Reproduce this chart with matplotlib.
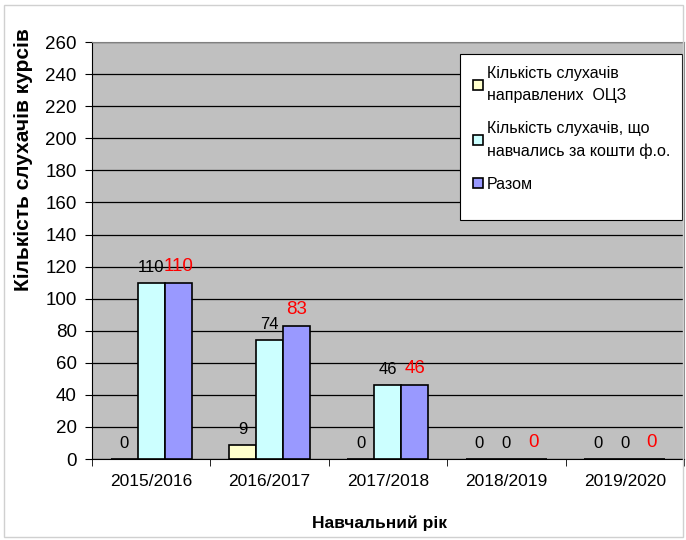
import numpy as np
import matplotlib
matplotlib.use("Agg")
from matplotlib import pyplot as plt
from matplotlib.patches import Rectangle

plt.rcParams['font.family'] = ['Liberation Sans', 'DejaVu Sans']

years = ["2015/2016", "2016/2017", "2017/2018", "2018/2019", "2019/2020"]
directed = [0, 9, 0, 0, 0]
self_paid = [110, 74, 46, 0, 0]
total = [110, 83, 46, 0, 0]
series_names = ["Кількість слухачів\nнаправлених  ОЦЗ",
                "Кількість слухачів, що\nнавчались за кошти ф.о.",
                "Разом"]
colors = ["#FFFFCC", "#CCFFFF", "#9999FF"]
yticks = list(range(0, 261, 20))

fig = plt.figure(figsize=(6.86, 5.40), dpi=100)
fig.patches.append(Rectangle((0.006, 0.006), 0.99, 0.985, transform=fig.transFigure,
                             fill=False, edgecolor="#D0D0D0", linewidth=1))
ax = fig.add_axes([0.134, 0.15, 0.863, 0.772])
ax.set_facecolor("#C0C0C0")

x = np.arange(len(years))
w = 0.228
data = [directed, self_paid, total]
for i, (vals, col, name) in enumerate(zip(data, colors, series_names)):
    pos = x + (i - 1) * w
    ax.bar(pos, vals, width=w, color=col, edgecolor="black", linewidth=1.2,
           label=name, zorder=3)
    for px, v in zip(pos, vals):
        if i == 2:
            ax.text(px, v + 5, str(v), ha="center", va="bottom",
                    color="red", fontsize=13.5, zorder=4)
        else:
            ax.text(px, v + 5, str(v), ha="center", va="bottom",
                    color="black", fontsize=12, zorder=4)

ax.set_xlim(-0.5, len(years) - 0.5)
ax.set_ylim(0, 260)
ax.set_yticks(yticks)
ax.set_yticklabels([str(t) for t in yticks], fontsize=13.5)
ax.yaxis.grid(True, color="black", linewidth=0.9, zorder=0)
ax.set_axisbelow(True)

ax.set_xticks(x)
ax.set_xticklabels(years, fontsize=12.5)
ax.tick_params(axis="x", length=0, pad=11)
ax.set_xticks(np.arange(-0.5, len(years)), minor=True)
ax.tick_params(axis="x", which="minor", length=5, direction="out")
ax.tick_params(axis="y", length=5, direction="out", pad=6)

for s in ["top", "right"]:
    ax.spines[s].set_color("#808080")
ax.spines["left"].set_color("black")
ax.spines["bottom"].set_color("black")

fig.text(0.034, 0.705, "Кількість слухачів курсів", rotation=90, ha="center",
         va="center", fontsize=15, fontweight="bold")
ax.set_xlabel("Навчальний рік", fontsize=12.5, fontweight="bold")
ax.xaxis.set_label_coords(0.486, -0.135)

# legend box
ax.add_patch(Rectangle((0.6216, 0.573), 0.375, 0.398, transform=ax.transAxes,
                       facecolor="white", edgecolor="black", linewidth=0.8,
                       zorder=5))
leg = ax.legend(loc="upper right", bbox_to_anchor=(0.997, 0.971), fontsize=11.5,
                frameon=False, handlelength=0.6, handleheight=0.6,
                handletextpad=0.25, labelspacing=1.1, borderpad=0.75,
                borderaxespad=0)
leg.set_zorder(6)
for t in leg.get_texts():
    t.set_linespacing(1.6)

fig.savefig("out.png", dpi=100)
